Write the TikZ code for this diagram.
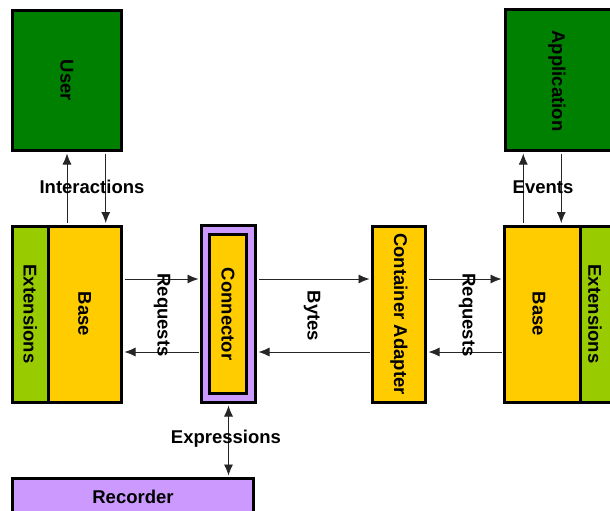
\documentclass[tikz,border=0pt]{standalone}
\usepackage{fontspec}
\setmainfont{Liberation Sans}
\usetikzlibrary{arrows.meta}
\definecolor{actorgreen}{HTML}{008000}
\definecolor{extgreen}{HTML}{99CC00}
\definecolor{partyellow}{HTML}{FFCC00}
\definecolor{recpurple}{HTML}{CC99FF}
\begin{document}
\begin{tikzpicture}[x=1pt,y=-1pt,>={Latex[length=11pt,width=9pt]},
    box/.style={draw=black,line width=3pt,inner sep=0pt,font=\bfseries\fontsize{18.5}{20}\selectfont},
    lbl/.style={font=\bfseries\fontsize{18.5}{20}\selectfont},
    arr/.style={->,line width=0.8pt,black!85,shorten >=1.5pt,shorten <=1.5pt}]
  \useasboundingbox (0,0) rectangle (610,511);
  \clip (0,0) rectangle (610,511);
  % actors
  \node[box,fill=actorgreen,minimum width=109pt,minimum height=140pt] (user) at (67,80.5) {};
  \node[rotate=-90,lbl] at (user) {User};
  \node[box,fill=actorgreen,minimum width=106.5pt,minimum height=141pt] (app) at (558.75,80) {};
  \node[rotate=-90,lbl] at (557,81) {Application};
  % left side
  \node[box,fill=extgreen,minimum width=35.5pt,minimum height=176pt] (extl) at (30.25,314) {};
  \node[rotate=-90,lbl] at (extl) {Extensions};
  \node[box,fill=partyellow,minimum width=73.5pt,minimum height=176pt] (basel) at (84.75,314) {};
  \node[rotate=-90,lbl] at (basel) {Base};
  % connector
  \node[box,fill=recpurple,minimum width=54pt,minimum height=177pt] (conn) at (228.5,314) {};
  \node[box,fill=partyellow,minimum width=37pt,minimum height=159pt] (connin) at (228,314) {};
  \node[rotate=-90,lbl] at (connin) {Connector};
  \node[box,fill=partyellow,minimum width=53pt,minimum height=176pt] (adapter) at (399,314) {};
  \node[rotate=-90,lbl] at (adapter) {Container Adapter};
  % right side
  \node[box,fill=partyellow,minimum width=75.5pt,minimum height=176pt] (baser) at (542.25,314) {};
  \node[rotate=-90,lbl] at (539,314) {Base};
  \node[box,fill=extgreen,minimum width=32pt,minimum height=176pt] (extr) at (596,314) {};
  \node[rotate=-90,lbl] at (595,314) {Extensions};
  % recorder
  \node[box,fill=recpurple,minimum width=241pt,minimum height=36pt] (rec) at (133,496.5) {Recorder};

  % interactions / events
  \draw[arr] (basel.north -| user.south) -- (user.south);
  \draw[arr] ([xshift=21pt]basel.north |- user.south) -- ([xshift=21pt]basel.north);
  \node[lbl] (interactions) at (92,187) {Interactions};
  \draw[arr] ([xshift=-19pt]baser.north) -- ([xshift=-19pt]baser.north |- app.south);
  \draw[arr] ([xshift=19pt]baser.north |- app.south) -- ([xshift=19pt]baser.north);
  \node[lbl] (events) at (543,187) {Events};

  % requests and bytes
  \draw[arr] ([yshift=35pt]basel.east) -- ([yshift=35pt]basel.east -| conn.west);
  \draw[arr] ([yshift=-38pt]conn.west) -- ([yshift=-38pt]conn.west -| basel.east);
  \node[lbl,rotate=-90] (reql) at (162,315) {Requests};
  \draw[arr] ([yshift=35pt]conn.east) -- ([yshift=35pt]conn.east -| adapter.west);
  \draw[arr] ([yshift=-38pt]adapter.west) -- ([yshift=-38pt]adapter.west -| conn.east);
  \node[lbl,rotate=-90] (bytes) at (312,316) {Bytes};
  \draw[arr] ([yshift=35pt]adapter.east) -- ([yshift=35pt]adapter.east -| baser.west);
  \draw[arr] ([yshift=-38pt]baser.west) -- ([yshift=-38pt]baser.west -| adapter.east);
  \node[lbl,rotate=-90] (reqr) at (467,315) {Requests};

  % expressions
  \draw[arr,<->] (conn.south) -- (conn.south |- rec.north);
  \node[lbl] (expr) at (226,439) {Expressions};
\end{tikzpicture}
\end{document}
